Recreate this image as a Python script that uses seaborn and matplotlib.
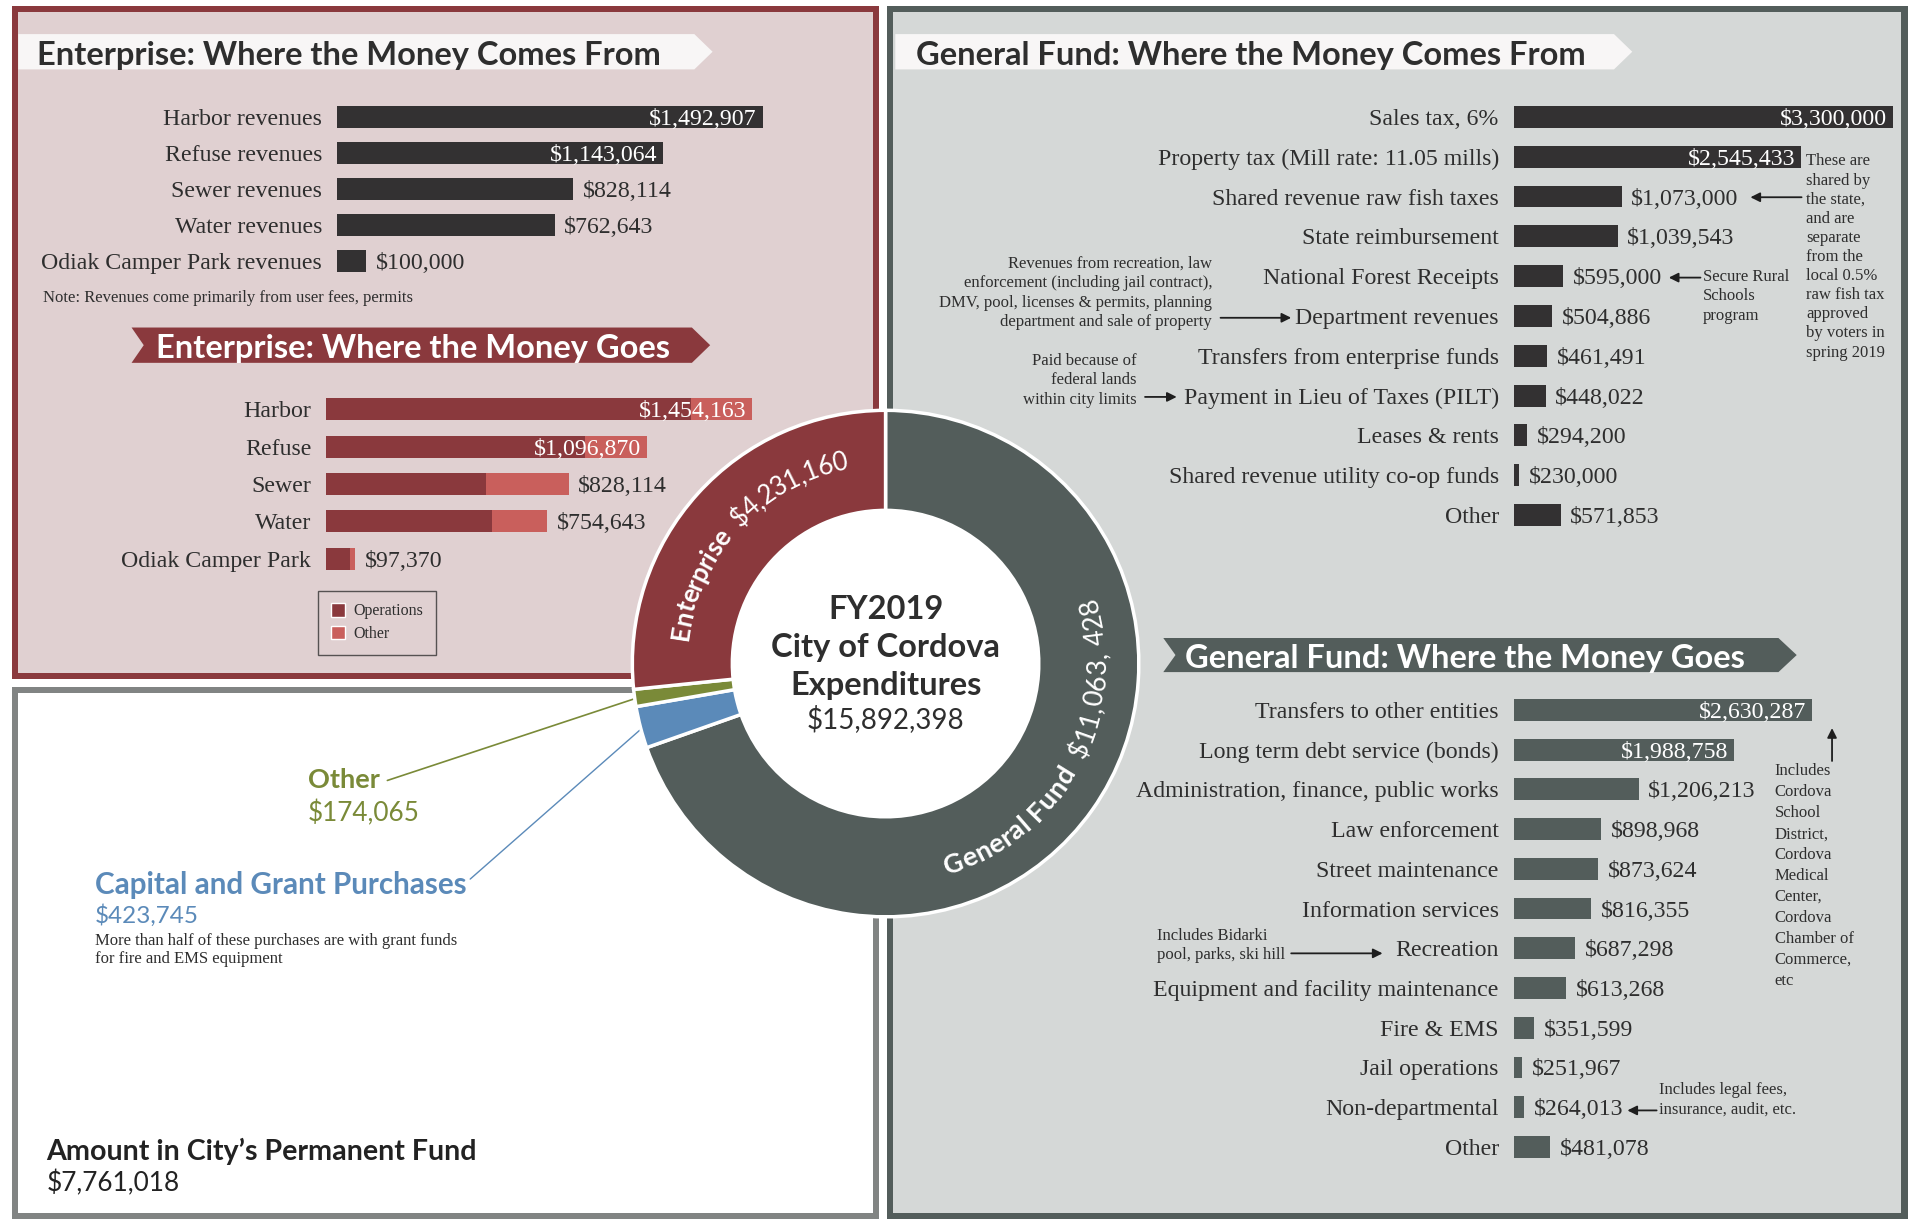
import numpy as np
import pandas as pd
import matplotlib
matplotlib.use("Agg")
import matplotlib.pyplot as plt
import seaborn as sns
from matplotlib.patches import Rectangle, Polygon, Patch, Circle
from matplotlib.font_manager import FontProperties

sns.set_theme(style="white")
HEAD = ['Lato', 'DejaVu Sans']
SERIF = ['Liberation Serif', 'DejaVu Serif']
plt.rcParams['font.family'] = HEAD

# ---------------- data ----------------
ent_rev_labels = ["Harbor revenues", "Refuse revenues", "Sewer revenues",
                  "Water revenues", "Odiak Camper Park revenues"]
ent_rev_values = [1492907, 1143064, 828114, 762643, 100000]

ent_exp_labels = ["Harbor", "Refuse", "Sewer", "Water", "Odiak Camper Park"]
ent_exp_totals = [1454163, 1096870, 828114, 754643, 97370]
ent_exp_operations = [1246000, 883000, 547000, 566000, 80000]

gf_rev_labels = ["Sales tax, 6%", "Property tax (Mill rate: 11.05 mills)",
                 "Shared revenue raw fish taxes", "State reimbursement",
                 "National Forest Receipts", "Department revenues",
                 "Transfers from enterprise funds", "Payment in Lieu of Taxes (PILT)",
                 "Leases & rents", "Shared revenue utility co-op funds", "Other"]
gf_rev_values = [3300000, 2545433, 1073000, 1039543, 595000, 504886,
                 461491, 448022, 294200, 230000, 571853]

gf_exp_labels = ["Transfers to other entities", "Long term debt service (bonds)",
                 "Administration, finance, public works", "Law enforcement",
                 "Street maintenance", "Information services", "Recreation",
                 "Equipment and facility maintenance", "Fire & EMS",
                 "Jail operations", "Non-departmental", "Other"]
gf_exp_values = [2630287, 1988758, 1206213, 898968, 873624, 816355, 687298,
                 613268, 351599, 251967, 264013, 481078]

donut_labels = ["General Fund", "Capital and Grant Purchases", "Other", "Enterprise"]
donut_values = [11063428, 423745, 174065, 4231160]
total_expenditures = 15892398
permanent_fund = 7761018

# ---------------- styles ----------------
MAROON = '#8a393d'
MAROON_LIGHT = '#c95f5c'
PINK_BG = '#e0d0d1'
GREY_DARK = '#535d5b'
GREY_BG = '#d5d8d7'
BAR_DARK = '#333132'
BLUE = '#5b8ab9'
OLIVE = '#7a8a38'
TEXT = '#2e2e2e'
LBL_FS = 17.2
NOTE_FS = 12
HEAD_FS = 23.5

W, H = 1568.0, 1002.0
fig = plt.figure(figsize=(19.1, 12.2), dpi=100)
base = fig.add_axes([0, 0, 1, 1])
base.set_xlim(0, W)
base.set_ylim(H, 0)
base.axis('off')


def rect(x0, y0, x1, y1, color, z=0):
    base.add_patch(Rectangle((x0, y0), x1 - x0, y1 - y0, facecolor=color,
                             edgecolor='none', zorder=z))


rect(10, 5, 722, 558, MAROON)
rect(15, 10, 717, 553, PINK_BG)
rect(10, 564, 722, 1001, '#818483')
rect(15, 569, 717, 996, 'white')
rect(728, 5, 1566, 1001, GREY_DARK)
rect(733, 10, 1561, 996, GREY_BG)


def banner(x0, x1, y0, y1, color, notch, text, tcolor, tx, fs):
    ym = (y0 + y1) / 2
    tip = 15
    pts = [(x0, y0), (x1 - tip, y0), (x1, ym), (x1 - tip, y1), (x0, y1)]
    if notch:
        pts.append((x0 + 10, ym))
    base.add_patch(Polygon(pts, closed=True, facecolor=color, edgecolor='none', zorder=2))
    base.text(tx, ym + 1, text, color=tcolor, fontsize=fs, fontweight='bold',
              va='center_baseline', ha='left', zorder=3, family=HEAD)


banner(15, 585, 28, 57, '#f8f6f6', False, "Enterprise: Where the Money Comes From", TEXT, 30, HEAD_FS)
banner(108, 583, 269, 298, MAROON, True, "Enterprise: Where the Money Goes", 'white', 128, HEAD_FS)
banner(735, 1340, 28, 57, '#f8f6f6', False, "General Fund: Where the Money Comes From", TEXT, 752, HEAD_FS)
banner(955, 1475, 524, 552, GREY_DARK, True, "General Fund: Where the Money Goes", 'white', 973, HEAD_FS)


def make_bar_ax(x0, x1, y_first, y_last, n):
    sp = (y_last - y_first) / (n - 1)
    top, bottom = y_first - sp / 2, y_last + sp / 2
    ax = fig.add_axes([x0 / W, 1 - bottom / H, (x1 - x0) / W, (bottom - top) / H])
    ax.patch.set_alpha(0)
    return ax, sp


def finish_bar_ax(ax, labels, x0, x1, xmin, scale):
    n = len(labels)
    ax.set_xlim(xmin, xmin + (x1 - x0) / scale)
    ax.set_ylim(n - 0.5, -0.5)
    ax.set_xlabel('')
    ax.set_ylabel('')
    ax.set_xticks([])
    ax.set_yticks(range(n))
    ax.set_yticklabels(labels, family=SERIF, fontsize=LBL_FS, color=TEXT)
    ax.tick_params(axis='y', length=0, pad=11)
    for s in ax.spines.values():
        s.set_visible(False)
    ax.grid(False)


def value_labels(ax, values, inside):
    for i, v in enumerate(values):
        s = f"${v:,}"
        if i in inside:
            ax.annotate(s, (v, i), xytext=(-4, 0), textcoords='offset points',
                        ha='right', va='center_baseline', color='white', family=SERIF,
                        fontsize=LBL_FS)
        else:
            ax.annotate(s, (v, i), xytext=(7, 0), textcoords='offset points',
                        ha='left', va='center_baseline', color=TEXT, family=SERIF,
                        fontsize=LBL_FS)


BAR_KW = dict(orient='h', saturation=1, errorbar=None, linewidth=0, edgecolor='none')

# Enterprise revenues
ax1, sp1 = make_bar_ax(277, 677, 96, 214, len(ent_rev_labels))
sns.barplot(x=ent_rev_values, y=ent_rev_labels, color=BAR_DARK, width=18 / sp1, ax=ax1, **BAR_KW)
finish_bar_ax(ax1, ent_rev_labels, 277, 677, 0, 233.8e-6)
value_labels(ax1, ent_rev_values, [0, 1])
base.text(35, 245, "Note: Revenues come primarily from user fees, permits",
          family=SERIF, fontsize=NOTE_FS, color=TEXT, va='center')

# Enterprise expenditures
ax2, sp2 = make_bar_ax(268, 668, 336, 459, len(ent_exp_labels))
sns.barplot(x=ent_exp_totals, y=ent_exp_labels, color=MAROON_LIGHT, width=18 / sp2, ax=ax2, **BAR_KW)
sns.barplot(x=ent_exp_operations, y=ent_exp_labels, color=MAROON, width=18 / sp2, ax=ax2, **BAR_KW)
finish_bar_ax(ax2, ent_exp_labels, 268, 668, 0, 240e-6)
value_labels(ax2, ent_exp_totals, [0, 1])
handles = [Patch(facecolor=MAROON, label='Operations'),
           Patch(facecolor=MAROON_LIGHT, label='Other')]
leg = base.legend(handles=handles, loc='upper left',
                  bbox_to_anchor=(261 / W, 1 - 485 / H), bbox_transform=fig.transFigure,
                  frameon=True, fancybox=False, edgecolor='#333333', facecolor='none',
                  prop=FontProperties(family=SERIF, size=11.5), handlelength=0.9,
                  handleheight=0.9, handletextpad=0.5, borderpad=0.8, labelspacing=0.4,
                  borderaxespad=0)
leg.get_frame().set_linewidth(1)
for t in leg.get_texts():
    t.set_color(TEXT)

# General Fund revenues
ax3, sp3 = make_bar_ax(1243, 1560, 96, 423, len(gf_rev_labels))
sns.barplot(x=gf_rev_values, y=gf_rev_labels, color=BAR_DARK, width=18 / sp3, ax=ax3, **BAR_KW)
finish_bar_ax(ax3, gf_rev_labels, 1243, 1560, 190000, 100e-6)
value_labels(ax3, gf_rev_values, [0, 1])

# General Fund expenditures
ax4, sp4 = make_bar_ax(1243, 1560, 583, 942, len(gf_exp_labels))
sns.barplot(x=gf_exp_values, y=gf_exp_labels, color=GREY_DARK, width=18 / sp4, ax=ax4, **BAR_KW)
finish_bar_ax(ax4, gf_exp_labels, 1243, 1560, 185000, 100e-6)
value_labels(ax4, gf_exp_values, [0, 1])


# annotations (right panel)
def note(x, y, txt, ha='left', ls=1.3):
    base.text(x, y, txt, family=SERIF, fontsize=NOTE_FS, color=TEXT, ha=ha,
              va='top', multialignment=ha, linespacing=ls)


def arrow(tail, tip):
    base.annotate('', xy=tip, xytext=tail,
                  arrowprops=dict(arrowstyle='-|>', color='#1e1e1e', lw=1.3,
                                  mutation_scale=14, shrinkA=0, shrinkB=0))


note(1483, 126, "These are\nshared by\nthe state,\nand are\nseparate\nfrom the\nlocal 0.5%\nraw fish tax\napproved\nby voters in\nspring 2019", ls=1.26)
arrow((1479, 162), (1437, 162))
note(1398, 221, "Secure Rural\nSchools\nprogram", ls=1.28)
arrow((1396, 228), (1370, 228))
note(995, 210, "Revenues from recreation, law\nenforcement (including jail contract),\nDMV, pool, licenses & permits, planning\ndepartment and sale of property", ha='right', ls=1.3)
arrow((1002, 261), (1060, 261))
note(933, 290, "Paid because of\nfederal lands\nwithin city limits", ha='right', ls=1.28)
arrow((940, 326), (966, 326))
note(1457, 627, "Includes\nCordova\nSchool\nDistrict,\nCordova\nMedical\nCenter,\nCordova\nChamber of\nCommerce,\netc", ls=1.41)
arrow((1504, 625), (1504, 598))
note(950, 762, "Includes Bidarki\npool, parks, ski hill", ls=1.24)
arrow((1060, 783), (1135, 783))
note(1362, 889, "Includes legal fees,\ninsurance, audit, etc.", ls=1.24)
arrow((1360, 912), (1336, 912))

# ---------------- donut ----------------
cx, cy, R = 727.0, 545.0, 208.0
HOLE = 0.605
PADR = 1.05
dax = fig.add_axes([(cx - R * PADR) / W, 1 - (cy + R * PADR) / H,
                    2 * R * PADR / W, 2 * R * PADR / H])
donut_colors = [GREY_DARK, BLUE, OLIVE, MAROON]
dax.add_patch(Circle((0, 0), HOLE, facecolor='white', edgecolor='none', zorder=0))
dax.pie(donut_values, colors=donut_colors, startangle=90, counterclock=False,
        radius=1, wedgeprops=dict(width=1 - HOLE, edgecolor='white', linewidth=2.5))
dax.set_xlim(-PADR, PADR)
dax.set_ylim(-PADR, PADR)
dax.set_aspect('equal')
dax.axis('off')

dax.text(0, 0.215, "FY2019", ha='center', va='center', fontsize=23.5, fontweight='bold', color=TEXT)
dax.text(0, 0.065, "City of Cordova", ha='center', va='center', fontsize=23.5, fontweight='bold', color=TEXT)
dax.text(0, -0.085, "Expenditures", ha='center', va='center', fontsize=23.5, fontweight='bold', color=TEXT)
dax.text(0, -0.22, f"${total_expenditures:,}", ha='center', va='center', fontsize=20, color=TEXT)

renderer = fig.canvas.get_renderer()


def text_w(s, prop):
    if s == '':
        return 0.0
    w, _, _ = renderer.get_text_width_height_descent(s + '.', prop, ismath=False)
    w0, _, _ = renderer.get_text_width_height_descent('.', prop, ismath=False)
    return w - w0


def arc_text(parts, center_deg, r, clockwise, fs, color):
    items = []
    pos = 0.0
    for s, weight in parts:
        prop = FontProperties(family=HEAD, weight=weight, size=fs)
        for i, ch in enumerate(s):
            a = text_w(s[:i], prop)
            b = text_w(s[:i + 1], prop)
            items.append((ch, weight, pos + (a + b) / 2))
        pos += text_w(s, prop)
    ppu = (dax.transData.transform((1, 0)) - dax.transData.transform((0, 0)))[0]
    r_px = r * ppu
    half = pos / r_px / 2
    cap = 0.72 * fs * 100 / 72 / ppu
    for ch, weight, off in items:
        if ch == ' ':
            continue
        if clockwise:
            th = np.radians(center_deg) + half - off / r_px
            rb = r - cap / 2
            rot = np.degrees(th) - 90
        else:
            th = np.radians(center_deg) - half + off / r_px
            rb = r + cap / 2
            rot = np.degrees(th) + 90
        dax.text(rb * np.cos(th), rb * np.sin(th), ch, rotation=rot,
                 rotation_mode='anchor', ha='center', va='baseline',
                 fontsize=fs, fontweight=weight, color=color, family=HEAD)


arc_text([("Enterprise", 'bold'), ("  $4,231,160", 'normal')], 137, 0.82, True, 18.5, 'white')
arc_text([("General Fund", 'bold'), ("  $11,063, 428", 'normal')], -28, 0.83, False, 19.5, 'white')

# leader lines from wedge mid-angles
vals = np.array(donut_values, dtype=float)
fr = vals / vals.sum() * 360
cum = np.concatenate([[0], np.cumsum(fr)[:-1]])
mid = 90 - (cum + fr / 2)


def edge_pt(k, rr=0.985):
    a = np.radians(mid[k])
    return (cx + rr * R * np.cos(a), cy - rr * R * np.sin(a))


ex, ey = edge_pt(2)
base.plot([318, ex], [641, ey], color=OLIVE, lw=1.2, zorder=4)
bx, by = edge_pt(1)
base.plot([386, bx], [722, by], color=BLUE, lw=1.0, zorder=4)

# bottom-left texts
base.text(253, 641, "Other", color=OLIVE, fontsize=19.5, fontweight='bold', va='center')
base.text(253, 668, f"${donut_values[2]:,}", color=OLIVE, fontsize=18.8, va='center')
base.text(78, 727, "Capital and Grant Purchases", color=BLUE, fontsize=21.3, fontweight='bold', va='center')
base.text(78, 752, f"${donut_values[1]:,}", color=BLUE, fontsize=17.5, va='center')
base.text(78, 766, "More than half of these purchases are with grant funds\nfor fire and EMS equipment",
          family=SERIF, fontsize=NOTE_FS, color=TEXT, va='top', linespacing=1.22)
base.text(38, 946, "Amount in City\u2019s Permanent Fund", color='#222222', fontsize=20.6,
          fontweight='bold', va='center')
base.text(38, 972, f"${permanent_fund:,}", color='#222222', fontsize=18.9, va='center')

fig.savefig("out.png", dpi=100)
